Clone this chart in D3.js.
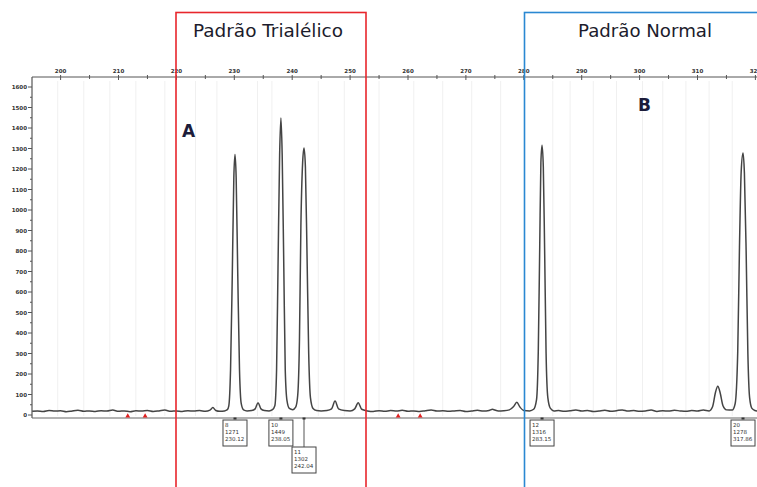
<!DOCTYPE html>
<html>
<head>
<meta charset="utf-8">
<script src="https://cdn.jsdelivr.net/npm/d3@7/dist/d3.min.js"></script>
<style>
  html, body { margin: 0; padding: 0; background: #fff; }
  svg { display: block; }
</style>
</head>
<body>
<svg id="chart" width="757" height="487"></svg>
<script>
// Electropherogram trace: fragment size (bp) and signal (RFU)
const traceSize = [195.1,196,197,198,199,200,201,202,203,204,205,206,207,208,209,210,211,212,213,214,215,216,217,218,219,220,221,222,223,224,225,225.8,226.3,226.8,227.5,228.3,228.8,
  229.05,229.35,229.65,229.92,230.12,230.32,230.6,230.9,231.2,231.6,
  232.2,233,233.6,234.1,234.6,235.2,236,236.6,237.0,
  237.3,237.55,237.83,238.05,238.27,238.55,238.8,239.1,239.5,240.1,240.6,240.95,
  241.25,241.5,241.8,242.04,242.28,242.55,242.85,243.15,243.6,244.2,245,246,246.8,247.4,248,249,250,250.8,251.4,252,253,254,255,256,257,258,259,260,261,262,263,264,265,266,267,268,269,270,271,272,273,274,274.6,275,275.6,276.5,277.5,278.2,278.8,279.3,280,281,281.7,282.2,
  282.5,282.75,282.95,283.15,283.37,283.6,283.85,284.15,284.6,285.2,286,287,288,289,290,291,292,293,294,295,296,297,298,299,300,301,302,303,304,305,306,307,308,309,310,311,312,312.6,313.1,313.5,313.9,314.4,315,316,316.5,
  316.95,317.25,317.55,317.86,318.1,318.4,318.7,319.0,319.4,319.9,320.3];
const traceRfu = [18,20,17,22,19,21,16,20,23,18,20,17,21,19,24,18,20,16,21,19,22,17,20,24,18,20,17,21,19,22,18,24,36,22,18,20,26,
  45,220,680,1160,1271,1160,680,220,55,25,
  20,22,30,60,30,22,20,26,45,
  220,720,1270,1449,1270,720,220,70,32,26,38,95,
  360,920,1230,1302,1210,800,300,85,32,22,20,22,30,68,30,22,20,30,60,28,20,17,21,18,22,19,23,18,20,17,21,24,19,21,18,20,22,17,20,23,19,22,28,24,20,21,25,40,62,40,22,20,28,75,
  310,820,1230,1316,1210,800,300,85,32,20,22,18,21,24,19,22,17,20,23,18,21,25,19,22,18,20,24,17,21,19,23,20,18,22,19,24,20,40,110,140,110,45,25,24,55,
  310,820,1190,1278,1180,800,300,85,32,22,20];

// Called peaks (allele, height, size)
const peakAllele = ["8", "10", "11", "12", "20"];
const peakHeight = [1271, 1449, 1302, 1316, 1278];
const peakSize = [230.12, 238.05, 242.04, 283.15, 317.86];
const peakDrop = [0, 0, 1, 0, 0];

// Off-scale / artefact markers on the baseline
const markerSize = [211.6, 214.6, 258.3, 262.1];

// Allele bin guides
const binSizes = [199.5, 204, 208.5, 213, 218, 223.3, 227, 234, 236.5, 244.5, 249, 255, 261, 266, 271, 276, 285, 288, 292, 296, 300.5, 304, 308, 312, 316];

// Axis ticks
const sizeTicks = d3.range(195, 321, 5);
const sizeLabels = ["200","210","220","230","240","250","260","270","280","290","300","310","320"];
const rfuTicks = d3.range(0, 1601, 50);
const rfuLabels = ["0","100","200","300","400","500","600","700","800","900","1000","1100","1200","1300","1400","1500","1600"];

// Panel headers
const panels = [
  { title: "Padrão Trialélico", letter: "A", from: 176, to: 366, color: "#e8262c" },
  { title: "Padrão Normal", letter: "B", from: 524.5, to: 790, color: "#2a88d2" }
];

const svg = d3.select("#chart");
const W = 757, H = 487;

const x = d3.scaleLinear().domain([200, 320]).range([60.6, 755.4]);
const y = d3.scaleLinear().domain([0, 1600]).range([415, 87]);
const plotLeft = 32, plotTop = 77, plotBottom = 418;

// bin guides
svg.append("g").selectAll("line").data(binSizes).join("line")
  .attr("x1", d => x(d)).attr("x2", d => x(d))
  .attr("y1", plotTop + 4).attr("y2", plotBottom - 2)
  .attr("stroke", "#f0f0f0").attr("stroke-width", 1);

// top size axis
const topAxis = svg.append("g");
topAxis.append("line").attr("x1", plotLeft).attr("x2", W).attr("y1", plotTop).attr("y2", plotTop)
  .attr("stroke", "#555").attr("stroke-width", 1);
topAxis.selectAll("line.t").data(sizeTicks.filter(d => x(d) > plotLeft && x(d) < W)).join("line")
  .attr("class", "t")
  .attr("x1", d => x(d)).attr("x2", d => x(d))
  .attr("y1", plotTop - 2).attr("y2", d => d % 10 === 0 ? plotTop + 3 : plotTop + 2)
  .attr("stroke", "#555").attr("stroke-width", 1);
topAxis.selectAll("text").data(sizeLabels).join("text")
  .attr("x", d => x(+d)).attr("y", plotTop - 4)
  .attr("text-anchor", "middle")
  .attr("font-family", "DejaVu Sans, sans-serif").attr("font-size", 5.5).attr("font-weight", "bold")
  .attr("fill", "#333").text(d => d);

// left RFU axis
const leftAxis = svg.append("g");
leftAxis.append("line").attr("x1", plotLeft).attr("x2", plotLeft).attr("y1", plotTop).attr("y2", plotBottom)
  .attr("stroke", "#555").attr("stroke-width", 1.2);
leftAxis.selectAll("line.t").data(rfuTicks).join("line")
  .attr("class", "t")
  .attr("x1", d => d % 100 === 0 ? plotLeft - 4 : plotLeft - 2).attr("x2", plotLeft)
  .attr("y1", d => y(d)).attr("y2", d => y(d))
  .attr("stroke", "#555").attr("stroke-width", 1);
leftAxis.selectAll("text").data(rfuLabels).join("text")
  .attr("x", plotLeft - 5).attr("y", d => y(+d) + 2)
  .attr("text-anchor", "end")
  .attr("font-family", "DejaVu Sans, sans-serif").attr("font-size", 5.5).attr("font-weight", "bold")
  .attr("fill", "#333").text(d => d);

// baseline rule
svg.append("line").attr("x1", plotLeft).attr("x2", W).attr("y1", plotBottom).attr("y2", plotBottom)
  .attr("stroke", "#666").attr("stroke-width", 1);

// trace
const trace = traceSize.map((s, i) => [s, traceRfu[i]]);
const line = d3.line().x(d => x(d[0])).y(d => y(d[1])).curve(d3.curveMonotoneX);
svg.append("path").datum(trace)
  .attr("d", line)
  .attr("fill", "none").attr("stroke", "#444").attr("stroke-width", 1.5)
  .attr("stroke-linejoin", "round");

// artefact markers
svg.append("g").selectAll("path").data(markerSize).join("path")
  .attr("d", d3.symbol().type(d3.symbolTriangle).size(10))
  .attr("transform", d => `translate(${x(d)},${plotBottom - 2})`)
  .attr("fill", "#e02020");

// peak label boxes
const boxes = svg.append("g");
peakSize.forEach((s, i) => {
  const px = x(s);
  const bx = px - 12, by = peakDrop[i] ? 447 : 420, bw = 24, bh = 26;
  if (peakDrop[i]) {
    boxes.append("line").attr("x1", px).attr("x2", px).attr("y1", plotBottom).attr("y2", by)
      .attr("stroke", "#555").attr("stroke-width", 1);
  }
  boxes.append("rect").attr("x", bx).attr("y", by).attr("width", bw).attr("height", bh)
    .attr("fill", "#fff").attr("stroke", "#444").attr("stroke-width", 1);
  boxes.append("rect").attr("x", px - 1.5).attr("y", plotBottom - 0.5).attr("width", 3).attr("height", 2)
    .attr("fill", "#333");
  const lines = [peakAllele[i], String(peakHeight[i]), peakSize[i].toFixed(2)];
  lines.forEach((t, j) => {
    boxes.append("text").attr("x", bx + 2).attr("y", by + 6.5 + j * 7)
      .attr("font-family", "DejaVu Sans, sans-serif").attr("font-size", 5.5)
      .attr("fill", "#333").text(t);
  });
});

// panel frames, titles and letters
panels.forEach((p, i) => {
  svg.append("rect").attr("x", p.from).attr("y", 12.5)
    .attr("width", p.to - p.from).attr("height", 500)
    .attr("fill", "none").attr("stroke", p.color).attr("stroke-width", 1.6);
  svg.append("text")
    .attr("x", i === 0 ? 268 : 645).attr("y", 37)
    .attr("text-anchor", "middle")
    .attr("font-family", "DejaVu Sans, sans-serif").attr("font-size", 17.5)
    .attr("textLength", i === 0 ? 150 : 134).attr("lengthAdjust", "spacingAndGlyphs")
    .attr("fill", "#1c1c2c").text(p.title);
});
svg.append("text").attr("x", 182).attr("y", 137)
  .attr("font-family", "DejaVu Sans, sans-serif").attr("font-size", 17).attr("font-weight", "bold")
  .attr("fill", "#1c1c3a").text(panels[0].letter);
svg.append("text").attr("x", 638).attr("y", 111)
  .attr("font-family", "DejaVu Sans, sans-serif").attr("font-size", 17).attr("font-weight", "bold")
  .attr("fill", "#1c1c3a").text(panels[1].letter);
</script>
</body>
</html>
